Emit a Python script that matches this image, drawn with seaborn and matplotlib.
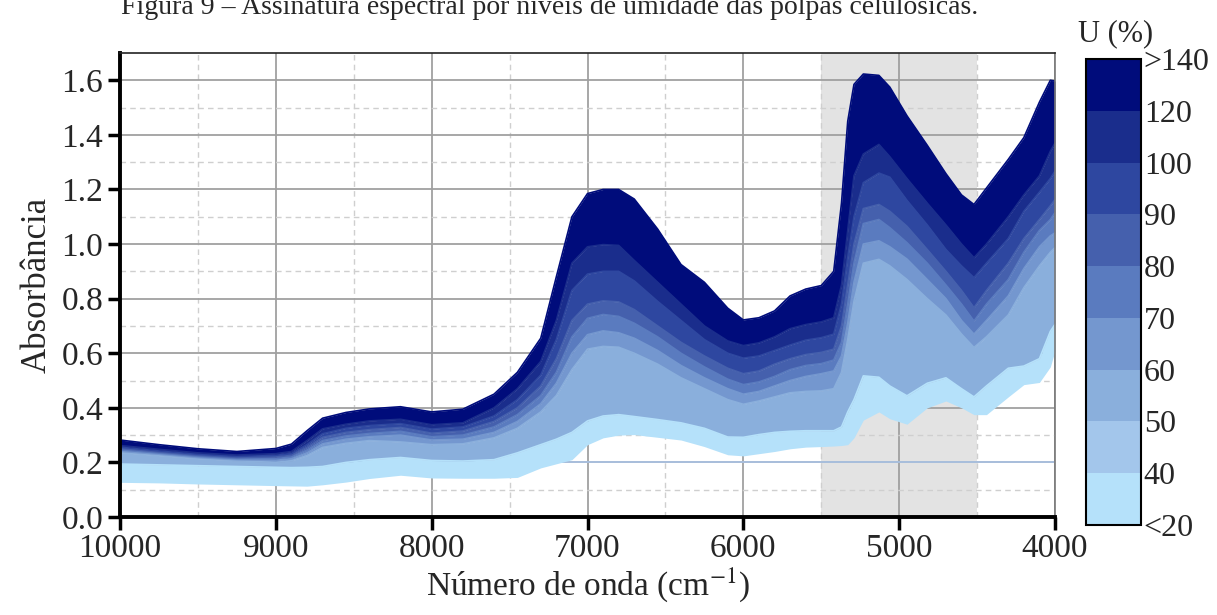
import numpy as np
import pandas as pd
import matplotlib
matplotlib.use("Agg")
import matplotlib.pyplot as plt
import seaborn as sns
from matplotlib.colors import ListedColormap, BoundaryNorm
from matplotlib.colorbar import ColorbarBase

# ---------------- data ----------------
wavenumber = [10000, 9750, 9500, 9250, 9000, 8900, 8800, 8700, 8550, 8400,
              8200, 8000, 7800, 7600, 7450, 7300, 7200, 7100, 7000, 6900,
              6800, 6700, 6550, 6400, 6250, 6100, 6000, 5900, 5800, 5700,
              5600, 5500, 5420, 5370, 5330, 5290, 5230, 5130, 5060, 4950,
              4820, 4700, 4600, 4520, 4440, 4300, 4200, 4100, 4030, 4000]

# boundary curves (absorbance), from lowest (c0) to highest (c9)
c0 = [0.127, 0.125, 0.121, 0.118, 0.115, 0.114, 0.113, 0.118, 0.128, 0.141,
      0.153, 0.143, 0.142, 0.142, 0.145, 0.18, 0.195, 0.21, 0.265, 0.29,
      0.3, 0.302, 0.292, 0.282, 0.258, 0.228, 0.224, 0.232, 0.24, 0.25,
      0.256, 0.258, 0.26, 0.262, 0.265, 0.29, 0.355, 0.385, 0.36, 0.34,
      0.4, 0.425, 0.4, 0.375, 0.375, 0.44, 0.485, 0.493, 0.55, 0.609]
c1 = [0.194, 0.191, 0.188, 0.185, 0.182, 0.181, 0.182, 0.185, 0.2, 0.21,
      0.218, 0.207, 0.205, 0.21, 0.235, 0.265, 0.285, 0.31, 0.352, 0.37,
      0.375, 0.368, 0.357, 0.345, 0.325, 0.293, 0.292, 0.302, 0.31, 0.314,
      0.316, 0.316, 0.316, 0.33, 0.385, 0.43, 0.517, 0.512, 0.48, 0.444,
      0.49, 0.51, 0.47, 0.44, 0.48, 0.545, 0.553, 0.58, 0.68, 0.706]
c3 = [0.236, 0.225, 0.214, 0.206, 0.2, 0.206, 0.225, 0.255, 0.27, 0.28,
      0.275, 0.265, 0.268, 0.29, 0.325, 0.385, 0.445, 0.54, 0.615, 0.625,
      0.622, 0.6, 0.56, 0.51, 0.47, 0.43, 0.413, 0.425, 0.44, 0.455,
      0.46, 0.462, 0.47, 0.53, 0.65, 0.79, 0.93, 0.944, 0.92, 0.87,
      0.8, 0.74, 0.67, 0.621, 0.66, 0.74, 0.84, 0.92, 0.97, 0.987]
c4 = [0.241, 0.23, 0.218, 0.21, 0.208, 0.213, 0.235, 0.268, 0.285, 0.294,
      0.3, 0.282, 0.285, 0.31, 0.35, 0.415, 0.49, 0.6, 0.668, 0.682,
      0.675, 0.655, 0.61, 0.555, 0.51, 0.47, 0.45, 0.46, 0.48, 0.5,
      0.515, 0.525, 0.535, 0.59, 0.71, 0.86, 1.0, 1.012, 0.99, 0.945,
      0.87, 0.8, 0.72, 0.67, 0.72, 0.81, 0.91, 0.99, 1.03, 1.041]
c5 = [0.246, 0.234, 0.222, 0.214, 0.214, 0.22, 0.245, 0.28, 0.297, 0.306,
      0.314, 0.294, 0.3, 0.33, 0.375, 0.445, 0.53, 0.66, 0.728, 0.742,
      0.735, 0.71, 0.66, 0.6, 0.55, 0.505, 0.485, 0.495, 0.515, 0.54,
      0.555, 0.562, 0.575, 0.64, 0.78, 0.93, 1.075, 1.09, 1.06, 1.005,
      0.93, 0.85, 0.78, 0.718, 0.78, 0.87, 0.97, 1.05, 1.09, 1.115]
c6 = [0.251, 0.238, 0.226, 0.218, 0.22, 0.226, 0.255, 0.292, 0.31, 0.32,
      0.328, 0.307, 0.315, 0.35, 0.40, 0.48, 0.58, 0.72, 0.78, 0.792,
      0.788, 0.76, 0.7, 0.64, 0.59, 0.545, 0.525, 0.535, 0.56, 0.58,
      0.595, 0.603, 0.615, 0.7, 0.85, 1.0, 1.13, 1.145, 1.12, 1.065,
      0.98, 0.9, 0.83, 0.767, 0.83, 0.93, 1.02, 1.09, 1.14, 1.163]
c7 = [0.256, 0.242, 0.23, 0.222, 0.226, 0.232, 0.265, 0.305, 0.325, 0.335,
      0.342, 0.322, 0.33, 0.37, 0.43, 0.52, 0.65, 0.83, 0.89, 0.9,
      0.9, 0.865, 0.79, 0.72, 0.65, 0.6, 0.582, 0.59, 0.61, 0.63,
      0.648, 0.657, 0.67, 0.78, 0.95, 1.1, 1.225, 1.26, 1.245, 1.16,
      1.07, 0.98, 0.92, 0.877, 0.93, 1.02, 1.12, 1.19, 1.24, 1.267]
c8 = [0.262, 0.248, 0.235, 0.227, 0.232, 0.24, 0.28, 0.323, 0.34, 0.352,
      0.358, 0.338, 0.345, 0.40, 0.47, 0.57, 0.72, 0.93, 0.99, 0.998,
      0.995, 0.94, 0.86, 0.78, 0.70, 0.645, 0.628, 0.638, 0.66, 0.69,
      0.705, 0.715, 0.73, 0.85, 1.05, 1.25, 1.33, 1.365, 1.32, 1.24,
      1.15, 1.07, 1.0, 0.95, 1.0, 1.1, 1.18, 1.25, 1.34, 1.37]
c9 = [0.282, 0.265, 0.25, 0.24, 0.251, 0.267, 0.316, 0.362, 0.383, 0.396,
      0.404, 0.385, 0.395, 0.45, 0.53, 0.655, 0.88, 1.10, 1.185, 1.2,
      1.2, 1.165, 1.055, 0.925, 0.86, 0.765, 0.722, 0.73, 0.755, 0.81,
      0.835, 0.848, 0.9, 1.15, 1.45, 1.585, 1.623, 1.618, 1.575, 1.47,
      1.362, 1.258, 1.18, 1.145, 1.205, 1.31, 1.39, 1.52, 1.6, 1.597]

level_labels = ["<20", "40", "50", "60", "70", "80", "90", "100", "120", ">140"]
level_colors = ["#B5E1FA", "#A3C6EB", "#8AAFDC", "#7497CF", "#5A7BBF",
                "#4560AD", "#2E47A0", "#1A2D8C", "#000C7B"]

x_ticks = [10000, 9000, 8000, 7000, 6000, 5000, 4000]
y_ticks = [0.0, 0.2, 0.4, 0.6, 0.8, 1.0, 1.2, 1.4, 1.6]

title = "Figura 9 – Assinatura espectral por níveis de umidade das polpas celulósicas."

# bands: (lower, upper, color)
bands = [(c0, c1, level_colors[0]), (c1, c3, level_colors[2]),
         (c3, c4, level_colors[3]), (c4, c5, level_colors[4]),
         (c5, c6, level_colors[5]), (c6, c7, level_colors[6]),
         (c7, c8, level_colors[7]), (c8, c9, level_colors[8])]

# ---------------- style ----------------
sns.set_theme(style="white")
plt.rcParams["font.family"] = ["Liberation Serif", "DejaVu Serif"]
plt.rcParams["mathtext.fontset"] = "stix"

fig = plt.figure(figsize=(12.17, 6.15), dpi=100)
ax = fig.add_axes([120 / 1217, 1 - 517 / 615, 935 / 1217, 464 / 615])

ax.set_axisbelow(True)
ax.axvspan(5500, 4500, color="#E3E3E3", zorder=0.2, lw=0)
ax.axhline(0.2, color="#A9C3E6", lw=1.2, zorder=1)

wn = np.array(wavenumber)
for lo, hi, col in bands:
    ax.fill_between(wn, lo, hi, color=col, lw=0, zorder=2)
    df = pd.DataFrame({"wn": wn, "a": hi})
    sns.lineplot(data=df, x="wn", y="a", ax=ax, color=col, lw=1.2,
                 zorder=2.1, sort=False)

ax.set_xlim(10000, 4000)
ax.set_ylim(0, 1.7)
ax.set_xticks(x_ticks)
ax.set_xticks(np.arange(9500, 4000, -1000), minor=True)
ax.set_yticks(y_ticks)
ax.set_yticks(np.arange(0.1, 1.7, 0.2), minor=True)
ax.set_xticklabels([str(t) for t in x_ticks])
ax.set_yticklabels([f"{t:.1f}" for t in y_ticks])

ax.grid(which="major", color="#A0A0A0", lw=1.3, ls="-")
ax.grid(which="minor", color="#CFCFCF", lw=1.0, ls=(0, (4, 3)))

ax.tick_params(axis="both", which="major", direction="out", length=9, width=2.5,
               labelsize=24, color="black", pad=3, bottom=True, left=True)
ax.tick_params(axis="both", which="minor", length=0)
for s in ["left", "bottom"]:
    ax.spines[s].set_linewidth(2.8)
    ax.spines[s].set_color("black")
ax.spines["top"].set_linewidth(1.2)
ax.spines["top"].set_color("#222222")
ax.spines["right"].set_linewidth(1.2)
ax.spines["right"].set_color("#777777")

ax.set_xlabel("Número de onda (cm$^{-1}$)", fontsize=24, labelpad=1)
ax.set_ylabel("Absorbância", fontsize=25, labelpad=6)

# colorbar
cax = fig.add_axes([1086 / 1217, 1 - 525 / 615, 55 / 1217, 466 / 615])
cmap = ListedColormap(level_colors)
norm = BoundaryNorm(np.arange(0, 10), cmap.N)
cb = ColorbarBase(cax, cmap=cmap, norm=norm, boundaries=np.arange(0, 10),
                  ticks=np.arange(0, 10), orientation="vertical")
cb.ax.set_yticklabels(level_labels)
cb.ax.tick_params(length=0, labelsize=23, pad=2)
cb.outline.set_linewidth(1.5)
cb.outline.set_edgecolor("black")
fig.text(1116 / 1217, 1 - 34 / 615, "U (%)", ha="center", va="center", fontsize=22)

fig.text(550 / 1217, 1 - 14 / 615, title, ha="center", va="baseline", fontsize=20)

fig.savefig("out.png", dpi=100)
